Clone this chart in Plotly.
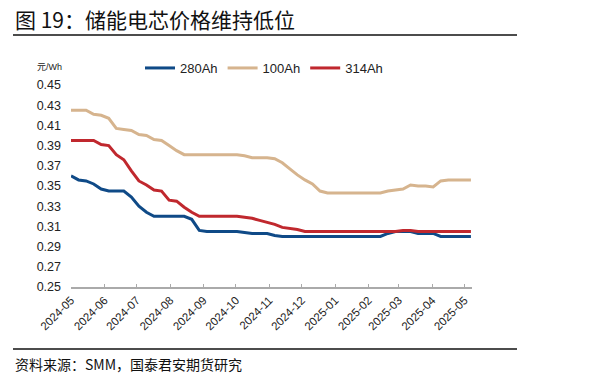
import plotly.graph_objects as go
import pandas as pd

# ---- data ----
dates = pd.date_range("2024-05-01", periods=54, freq="7D")

p100 = [0.425, 0.425, 0.425, 0.421, 0.420, 0.417, 0.407, 0.406, 0.405, 0.401,
        0.400, 0.396, 0.395, 0.390, 0.385, 0.381, 0.381, 0.381, 0.381, 0.381,
        0.381, 0.381, 0.381, 0.380, 0.378, 0.378, 0.378, 0.377, 0.373, 0.367,
        0.361, 0.356, 0.352, 0.345, 0.343, 0.343, 0.343, 0.343, 0.343, 0.343,
        0.343, 0.343, 0.345, 0.346, 0.347, 0.351, 0.350, 0.350, 0.349, 0.355,
        0.356, 0.356, 0.356, 0.356]

p314 = [0.395, 0.395, 0.395, 0.395, 0.391, 0.390, 0.381, 0.376, 0.365, 0.355,
        0.351, 0.346, 0.345, 0.336, 0.335, 0.329, 0.324, 0.320, 0.320, 0.320,
        0.320, 0.320, 0.320, 0.319, 0.318, 0.316, 0.314, 0.312, 0.309, 0.308,
        0.307, 0.305, 0.305, 0.305, 0.305, 0.305, 0.305, 0.305, 0.305, 0.305,
        0.305, 0.305, 0.305, 0.305, 0.306, 0.306, 0.305, 0.305, 0.305, 0.305,
        0.305, 0.305, 0.305, 0.305]

p280 = [0.360, 0.356, 0.355, 0.352, 0.347, 0.345, 0.345, 0.345, 0.339, 0.330,
        0.324, 0.320, 0.320, 0.320, 0.320, 0.320, 0.317, 0.306, 0.305, 0.305,
        0.305, 0.305, 0.305, 0.304, 0.303, 0.303, 0.303, 0.301, 0.300, 0.300,
        0.300, 0.300, 0.300, 0.300, 0.300, 0.300, 0.300, 0.300, 0.300, 0.300,
        0.300, 0.300, 0.303, 0.305, 0.305, 0.305, 0.303, 0.303, 0.303, 0.300,
        0.300, 0.300, 0.300, 0.300]

series_names = ["280Ah", "100Ah", "314Ah"]
y_ticks = [0.25, 0.27, 0.29, 0.31, 0.33, 0.35, 0.37, 0.39, 0.41, 0.43, 0.45]
x_ticks = pd.date_range("2024-05-01", "2025-05-01", freq="MS")

title_text = "图 19：储能电芯价格维持低位"
source_text = "资料来源：SMM，国泰君安期货研究"
unit_text = "元/Wh"

# ---- layout constants ----
W, H = 601, 385
L, R, T, B = 71, 472, 85, 287

def xp(px):
    return (px - L) / (R - L)

def yp(py):
    return (B - py) / (B - T)

FONT = "Liberation Sans, Arial, Noto Sans CJK SC, sans-serif"
CJK = "Noto Sans CJK SC, sans-serif"

colors = {"280Ah": "#0F4A87", "100Ah": "#D6B48E", "314Ah": "#C0282E"}
values = {"280Ah": p280, "100Ah": p100, "314Ah": p314}

fig = go.Figure()
for name in series_names:
    fig.add_trace(go.Scatter(
        x=dates, y=values[name], mode="lines", name=name,
        line=dict(color=colors[name], width=3, shape="linear"),
    ))

fig.update_layout(
    width=W, height=H,
    margin=dict(l=L, r=W - R, t=T, b=H - B),
    paper_bgcolor="white", plot_bgcolor="white",
    showlegend=True,
    legend=dict(
        orientation="h", x=xp(140), y=yp(68), xanchor="left", yanchor="middle",
        font=dict(family=FONT, size=13, color="#222"),
        bgcolor="rgba(0,0,0,0)", itemwidth=30, tracegroupgap=0,
    ),
    xaxis=dict(
        type="date",
        range=["2024-05-01", "2025-05-08"],
        tickvals=list(x_ticks),
        ticktext=[d.strftime("%Y-%m") for d in x_ticks],
        tickangle=-45,
        ticks="inside", ticklen=3, tickcolor="#AAAAAA", tickwidth=1,
        showline=True, linecolor="#AAAAAA", linewidth=2,
        showgrid=False, zeroline=False,
        tickfont=dict(family=FONT, size=11.5, color="#222"),
    ),
    yaxis=dict(
        range=[0.25, 0.45],
        tickvals=y_ticks,
        ticktext=[f"{v:.2f}" for v in y_ticks],
        showline=False, showgrid=False, zeroline=False, ticks="",
        ticklabelstandoff=9,
        tickfont=dict(family=FONT, size=12.5, color="#222"),
    ),
)

ann = []
ann.append(dict(text=title_text, x=xp(13), y=yp(19), xref="paper", yref="paper",
                xanchor="left", yanchor="middle", showarrow=False,
                font=dict(family=CJK, size=21, color="#111")))
ann.append(dict(text=source_text, x=xp(13), y=yp(364), xref="paper", yref="paper",
                xanchor="left", yanchor="middle", showarrow=False,
                font=dict(family=CJK, size=14, color="#111")))
ann.append(dict(text=unit_text, x=xp(35), y=yp(67), xref="paper", yref="paper",
                xanchor="left", yanchor="middle", showarrow=False,
                font=dict(family=FONT, size=9, color="#222")))
fig.update_layout(annotations=ann)

fig.add_shape(type="line", xref="paper", yref="paper",
              x0=xp(13), x1=xp(517), y0=yp(35), y1=yp(35),
              line=dict(color="#111", width=1.5))
fig.add_shape(type="line", xref="paper", yref="paper",
              x0=xp(13), x1=xp(517), y0=yp(349), y1=yp(349),
              line=dict(color="#111", width=1.5))

fig.write_html("out.html")
